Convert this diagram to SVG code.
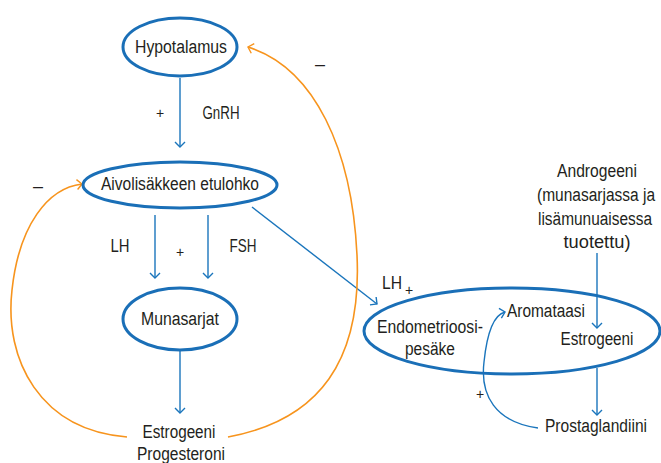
<svg xmlns="http://www.w3.org/2000/svg" width="661" height="463" viewBox="0 0 661 463">
<defs>
<marker id="ab" viewBox="0 0 7 12" refX="6" refY="6" markerWidth="7" markerHeight="12" markerUnits="userSpaceOnUse" orient="auto">
<path d="M1,1 L6,6 L1,11" fill="none" stroke="#1a75bc" stroke-width="1.4"/>
</marker>
<marker id="ao" viewBox="0 0 7 12" refX="6" refY="6" markerWidth="7" markerHeight="12" markerUnits="userSpaceOnUse" orient="auto">
<path d="M1,1 L6,6 L1,11" fill="none" stroke="#f7941d" stroke-width="1.4"/>
</marker>
</defs>
<style>
.n{fill:none;stroke:#1a6fb7;stroke-width:3}
.t{font-family:"Liberation Sans",Arial,sans-serif;font-size:18px;fill:#231f20;text-anchor:middle}
.s{font-family:"Liberation Sans",Arial,sans-serif;font-size:14px;fill:#231f20;text-anchor:middle}
.b{fill:none;stroke:#1a75bc;stroke-width:1.4;marker-end:url(#ab)}
.o{fill:none;stroke:#f7941d;stroke-width:1.6;marker-end:url(#ao)}
</style>
<rect width="661" height="463" fill="#fff"/>
<g id="connectors">
<path class="b" d="M180,78 L180,147"/>
<path class="b" d="M155,215 L155,278"/>
<path class="b" d="M208,215 L208,278"/>
<path class="b" d="M180,350 L180,413"/>
<path class="b" d="M252,207 L377,304"/>
<path class="b" d="M597,253 L597,328"/>
<path class="b" d="M597,368 L597,415"/>
<path class="b" d="M538,428 C495,422 480,395 484,362 C487,333 493,315 505,312"/>
<path class="o" d="M228,437 C320,420 362,360 357,255 C352,150 315,68 248,47"/>
<path class="o" d="M127,437 C40,430 4,360 12,290 C19,225 48,188 82,184"/>
</g>
<g id="hypotalamus">
<ellipse class="n" cx="180" cy="47" rx="57" ry="29"/>
<text class="t" x="181" y="53" textLength="92" lengthAdjust="spacingAndGlyphs">Hypotalamus</text>
</g>
<g id="aivolisake">
<ellipse class="n" cx="180" cy="185" rx="97" ry="23"/>
<text class="t" x="180" y="190" textLength="158" lengthAdjust="spacingAndGlyphs">Aivolisäkkeen etulohko</text>
</g>
<g id="munasarjat">
<ellipse class="n" cx="180" cy="319" rx="57" ry="31"/>
<text class="t" x="180" y="325" textLength="78" lengthAdjust="spacingAndGlyphs">Munasarjat</text>
</g>
<g id="estrogeeni-progesteroni">
<text class="t" x="179" y="438" textLength="73" lengthAdjust="spacingAndGlyphs">Estrogeeni</text>
<text class="t" x="181" y="460" textLength="88" lengthAdjust="spacingAndGlyphs">Progesteroni</text>
</g>
<g id="endometrioosipesake">
<ellipse class="n" cx="512" cy="331" rx="148" ry="43"/>
<text class="t" x="430" y="333" textLength="106" lengthAdjust="spacingAndGlyphs">Endometrioosi-</text>
<text class="t" x="430" y="355" textLength="50" lengthAdjust="spacingAndGlyphs">pesäke</text>
<text class="t" x="546" y="317" textLength="78" lengthAdjust="spacingAndGlyphs">Aromataasi</text>
<text class="t" x="597" y="345" textLength="73" lengthAdjust="spacingAndGlyphs">Estrogeeni</text>
</g>
<g id="androgeeni">
<text class="t" x="597" y="177" textLength="80" lengthAdjust="spacingAndGlyphs">Androgeeni</text>
<text class="t" x="596" y="201" textLength="118" lengthAdjust="spacingAndGlyphs">(munasarjassa ja</text>
<text class="t" x="595" y="225" textLength="114" lengthAdjust="spacingAndGlyphs">lisämunuaisessa</text>
<text class="t" x="597" y="248" textLength="67" lengthAdjust="spacingAndGlyphs">tuotettu)</text>
</g>
<g id="prostaglandiini">
<text class="t" x="596" y="432" textLength="102" lengthAdjust="spacingAndGlyphs">Prostaglandiini</text>
</g>
<g id="labels">
<text class="s" x="160" y="118">+</text>
<text class="t" x="221" y="119" textLength="37" lengthAdjust="spacingAndGlyphs">GnRH</text>
<text class="t" x="120" y="252" textLength="19" lengthAdjust="spacingAndGlyphs">LH</text>
<text class="s" x="180" y="257">+</text>
<text class="t" x="243" y="252" textLength="27" lengthAdjust="spacingAndGlyphs">FSH</text>
<text class="t" x="392" y="289" textLength="20" lengthAdjust="spacingAndGlyphs">LH</text>
<text class="s" x="409" y="295">+</text>
<text class="s" x="480" y="399">+</text>
<text class="t" x="320" y="70">–</text>
<text class="t" x="38" y="192">–</text>
</g>
</svg>
